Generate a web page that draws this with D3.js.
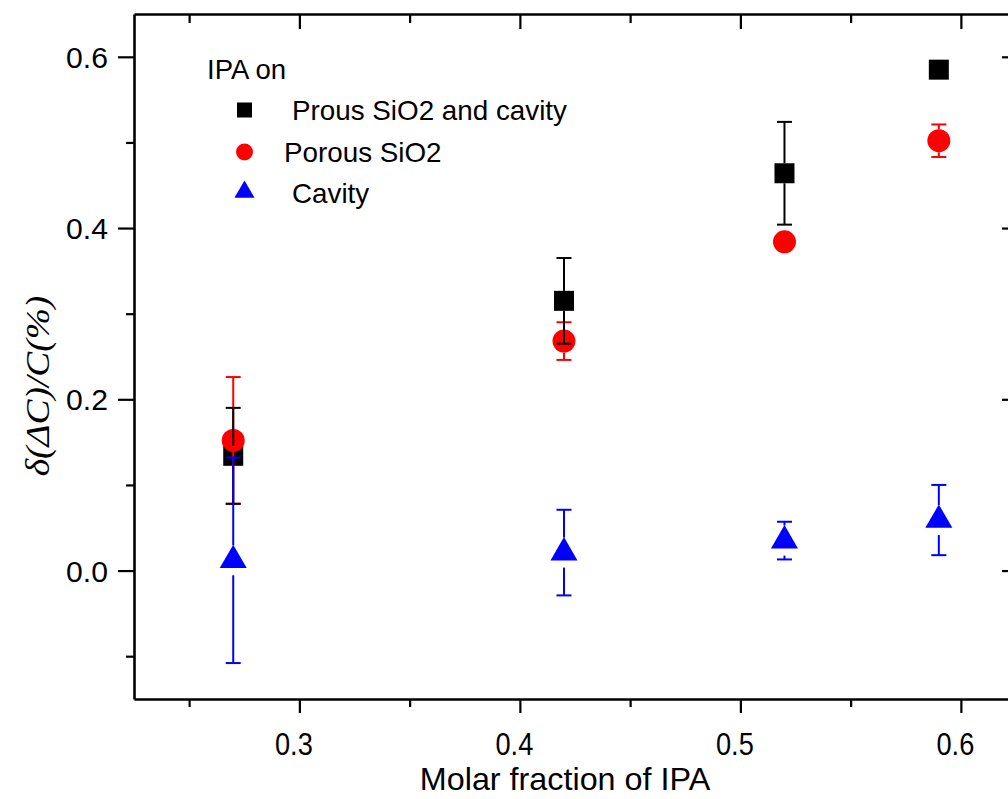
<!DOCTYPE html>
<html>
<head>
<meta charset="utf-8">
<script src="https://cdn.jsdelivr.net/npm/d3@7"></script>
<style>
  html, body { margin: 0; padding: 0; background: #fff; }
  svg { display: block; }
  text { font-family: "Liberation Sans", Arial, sans-serif; fill: #000; }
</style>
</head>
<body>
<svg id="chart" width="1008" height="799"></svg>
<script>
// Molar fraction of IPA at each measurement
const molarFraction = [0.27, 0.42, 0.52, 0.59];

// Relative capacitance change, mean and error, per sample type
const bothValues   = [0.134, 0.315, 0.464, 0.585];
const bothErrors   = [0.056, 0.050, 0.060, 0.004];
const sio2Values   = [0.152, 0.268, 0.384, 0.502];
const sio2Errors   = [0.074, 0.022, 0.008, 0.019];
const cavityValues = [0.012, 0.021, 0.035, 0.059];
const cavityErrors = [0.120, 0.050, 0.022, 0.041];

const seriesNames = ["Prous SiO2 and cavity", "Porous SiO2", "Cavity"];
const legendTitle = "IPA on";

const xTicks = [0.3, 0.4, 0.5, 0.6];
const yTicks = [0.0, 0.2, 0.4, 0.6];
const xDomain = [0.225, 0.625];
const yDomain = [-0.15, 0.65];

const svg = d3.select("#chart");
const L = 134, R = 1016, T = 14, B = 699;

const x = d3.scaleLinear().domain(xDomain).range([L, R]);
const y = d3.scaleLinear().domain(yDomain).range([B, T]);

const series = [
  { name: seriesNames[0], values: bothValues,   errors: bothErrors,   color: "#000000",
    symbol: d3.symbolSquare,   size: 400, gap: 10,   legendSize: 225 },
  { name: seriesNames[1], values: sio2Values,   errors: sio2Errors,   color: "#ff0000",
    symbol: d3.symbolCircle,   size: 415, gap: 11.5, legendSize: 225 },
  { name: seriesNames[2], values: cavityValues, errors: cavityErrors, color: "#0000ff",
    symbol: d3.symbolTriangle, size: 316, gap: 15,   legendSize: 175 }
];

// ---- axes ----
const majorLen = 14, minorLen = 8;
const xMinor = d3.range(0.25, 0.626, 0.05).filter(v => !xTicks.some(t => Math.abs(t - v) < 1e-6));
const yMinor = d3.range(-0.1, 0.651, 0.1).filter(v => !yTicks.some(t => Math.abs(t - v) < 1e-6));

function styleAxis(g) {
  g.selectAll("path.domain").attr("stroke", "#000").attr("stroke-width", 2.6);
  g.selectAll(".tick line").attr("stroke", "#000").attr("stroke-width", 2.2);
}

// bottom
const gx = svg.append("g").attr("transform", `translate(0,${B})`)
  .call(d3.axisBottom(x).tickValues(xTicks).tickSize(majorLen).tickSizeOuter(0)
    .tickFormat(d3.format(".1f")));
styleAxis(gx);
gx.selectAll(".tick text")
  .attr("y", 0).attr("dy", 0)
  .attr("font-size", 32)
  .attr("transform", "translate(-6,56) scale(0.85,1)");
svg.append("g").attr("transform", `translate(0,${B})`)
  .call(d3.axisBottom(x).tickValues(xMinor).tickSize(minorLen).tickFormat(""))
  .call(g => g.select("path.domain").remove())
  .call(styleAxis);

// top (inward ticks)
svg.append("g").attr("transform", `translate(0,${T})`)
  .call(d3.axisBottom(x).tickValues(xTicks).tickSize(majorLen + 1).tickSizeOuter(0).tickFormat(""))
  .call(styleAxis);
svg.append("g").attr("transform", `translate(0,${T})`)
  .call(d3.axisBottom(x).tickValues(xMinor).tickSize(minorLen + 1).tickFormat(""))
  .call(g => g.select("path.domain").remove())
  .call(styleAxis);

// left
const gy = svg.append("g").attr("transform", `translate(${L},0)`)
  .call(d3.axisLeft(y).tickValues(yTicks).tickSize(majorLen + 2).tickSizeOuter(0)
    .tickFormat(d3.format(".1f")));
styleAxis(gy);
gy.selectAll(".tick text")
  .attr("x", 0).attr("dy", "0.36em")
  .attr("font-size", 29)
  .attr("text-anchor", "end")
  .attr("transform", "translate(-26,0) scale(1.04,1)");
svg.append("g").attr("transform", `translate(${L},0)`)
  .call(d3.axisLeft(y).tickValues(yMinor).tickSize(minorLen).tickFormat(""))
  .call(g => g.select("path.domain").remove())
  .call(styleAxis);

// right (inward ticks)
svg.append("g").attr("transform", `translate(${R},0)`)
  .call(d3.axisLeft(y).tickValues(yTicks).tickSize(majorLen).tickSizeOuter(0).tickFormat(""))
  .call(styleAxis);
svg.append("g").attr("transform", `translate(${R},0)`)
  .call(d3.axisLeft(y).tickValues(yMinor).tickSize(minorLen).tickFormat(""))
  .call(g => g.select("path.domain").remove())
  .call(styleAxis);

// axis titles
svg.append("text")
  .attr("transform", "translate(565,790) scale(1.01,1)")
  .attr("text-anchor", "middle")
  .attr("font-size", 32)
  .text("Molar fraction of IPA");

svg.append("text")
  .attr("transform", "translate(49,386) rotate(-90) scale(1.1,1)")
  .attr("text-anchor", "middle")
  .attr("font-size", 34)
  .attr("font-style", "italic")
  .style("font-family", "'Liberation Serif', 'Times New Roman', serif")
  .text("δ(ΔC)/C(%)");

// ---- markers ----
const plot = svg.append("g");
series.forEach(s => {
  plot.append("g").selectAll("path")
    .data(molarFraction.map((m, i) => ({ m, v: s.values[i] })))
    .join("path")
    .attr("d", d3.symbol().type(s.symbol).size(s.size))
    .attr("transform", d => `translate(${x(d.m)},${y(d.v)})`)
    .attr("fill", s.color);
});

// ---- error bars (drawn over markers, leaving the own marker clear) ----
const capHalf = 7.5;
[series[1], series[0], series[2]].forEach(s => {
  const g = plot.append("g").attr("stroke", s.color).attr("stroke-width", 2).attr("fill", "none");
  molarFraction.forEach((m, i) => {
    const cx = x(m), cy = y(s.values[i]);
    const yTop = y(s.values[i] + s.errors[i]);
    const yBot = y(s.values[i] - s.errors[i]);
    if (cy - s.gap > yTop) g.append("line").attr("x1", cx).attr("x2", cx).attr("y1", yTop).attr("y2", cy - s.gap);
    if (cy + s.gap < yBot) g.append("line").attr("x1", cx).attr("x2", cx).attr("y1", cy + s.gap).attr("y2", yBot);
    [yTop, yBot].forEach(yy => {
      g.append("line").attr("x1", cx - capHalf).attr("x2", cx + capHalf).attr("y1", yy).attr("y2", yy);
    });
  });
});

// ---- legend ----
const legend = svg.append("g");
legend.append("text").attr("font-size", 27)
  .attr("transform", "translate(207,79) scale(1.02,1)")
  .text(legendTitle);
const legendRows = [
  { cy: 110, tx: 292, ty: 120 },
  { cy: 152, tx: 284, ty: 162 },
  { cy: 192, tx: 292, ty: 203 }
];
series.forEach((s, i) => {
  const r = legendRows[i];
  legend.append("path")
    .attr("d", d3.symbol().type(s.symbol).size(s.legendSize))
    .attr("transform", `translate(244.5,${r.cy})`)
    .attr("fill", s.color);
  legend.append("text")
    .attr("font-size", 27)
    .attr("transform", `translate(${r.tx},${r.ty}) scale(1.03,1)`)
    .text(s.name);
});
</script>
</body>
</html>
